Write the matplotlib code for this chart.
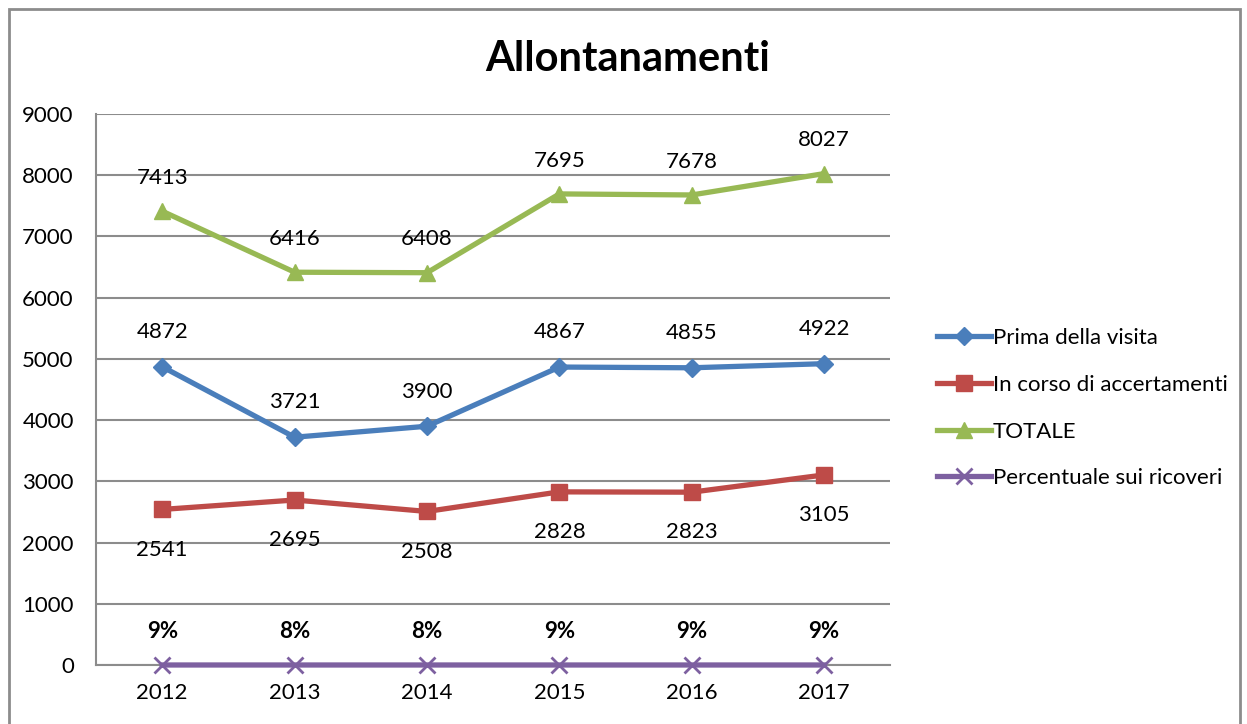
import matplotlib.pyplot as plt
import matplotlib.patches as mpatches

years = ['2012', '2013', '2014', '2015', '2016', '2017']
prima = [4872, 3721, 3900, 4867, 4855, 4922]
in_corso = [2541, 2695, 2508, 2828, 2823, 3105]
totale = [7413, 6416, 6408, 7695, 7678, 8027]
percentuale = [0.09, 0.08, 0.08, 0.09, 0.09, 0.09]

plt.rcParams['font.family'] = ['Lato', 'DejaVu Sans']

fig = plt.figure(figsize=(12.47, 7.24), dpi=100)
ax = fig.add_axes([0.077, 0.0815, 0.637, 0.761])

x = list(range(len(years)))
lw = 3.8
ax.plot(x, prima, color='#4A7EBB', lw=lw, marker='D', ms=9, label='Prima della visita', zorder=3)
ax.plot(x, in_corso, color='#BE4B48', lw=lw, marker='s', ms=12, label='In corso di accertamenti', zorder=3)
ax.plot(x, totale, color='#98B954', lw=lw, marker='^', ms=12, label='TOTALE', zorder=3)
ax.plot(x, percentuale, color='#7D60A0', lw=lw, marker='x', ms=12, mew=2,
        label='Percentuale sui ricoveri', zorder=3, clip_on=False)

fs = 16
for i in x:
    ax.annotate(str(totale[i]), (i, totale[i]), xytext=(0, 24), textcoords='offset points',
                ha='center', va='center', fontsize=fs)
    ax.annotate(str(prima[i]), (i, prima[i]), xytext=(0, 25), textcoords='offset points',
                ha='center', va='center', fontsize=fs)
    ax.annotate(str(in_corso[i]), (i, in_corso[i]), xytext=(0, -29), textcoords='offset points',
                ha='center', va='center', fontsize=fs)
    ax.annotate(f'{round(percentuale[i] * 100)}%', (i, percentuale[i]), xytext=(0, 24),
                textcoords='offset points', ha='center', va='center', fontsize=fs, fontweight='bold')

ax.set_xlim(-0.5, 5.5)
ax.set_ylim(0, 9000)
ax.set_yticks(range(0, 9001, 1000))
ax.set_xticks(x)
ax.set_xticklabels(years)
ax.tick_params(axis='both', labelsize=16, length=0)
ax.tick_params(axis='x', pad=13)
ax.tick_params(axis='y', pad=16)
ax.grid(axis='y', color='#8c8c8c', lw=1.5)
ax.set_axisbelow(True)
for s in ['top', 'right']:
    ax.spines[s].set_visible(False)
for s in ['left', 'bottom']:
    ax.spines[s].set_color('#8c8c8c')
    ax.spines[s].set_linewidth(1.5)

fig.text(0.503, 0.918, 'Allontanamenti', ha='center', va='center', fontsize=30, fontweight='bold')

ax.legend(loc='center left', bbox_to_anchor=(1.034, 0.466), frameon=False, fontsize=16,
          handlelength=2.4, handletextpad=0.1, labelspacing=1.2)

fig.patches.append(mpatches.Rectangle((0.007, -0.01), 0.987, 0.998, transform=fig.transFigure,
                                      fill=False, edgecolor='#8c8c8c', lw=2))

fig.savefig('out.png', dpi=100)
